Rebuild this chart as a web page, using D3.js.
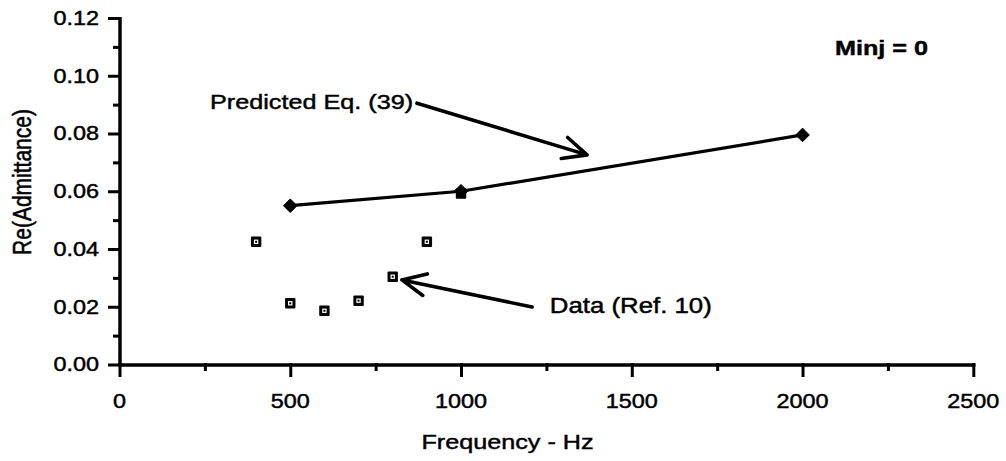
<!DOCTYPE html>
<html>
<head>
<meta charset="utf-8">
<script src="https://cdn.jsdelivr.net/npm/d3@7"></script>
<style>
  html, body { margin: 0; background: #fff; }
  svg { display: block; }
  text { font-family: "Liberation Sans", Arial, Helvetica, sans-serif; fill: #000; stroke: #000; stroke-width: 0.45px; }
</style>
</head>
<body>
<svg id="chart" width="1006" height="461"></svg>
<script>
// Axis ticks and labels
const xTicks = [0, 500, 1000, 1500, 2000, 2500];
const xTickLabels = ["0", "500", "1000", "1500", "2000", "2500"];
const xMinorTicks = [250, 750, 1250, 1750, 2250];
const yTicks = [0, 0.02, 0.04, 0.06, 0.08, 0.10, 0.12];
const yTickLabels = ["0.00", "0.02", "0.04", "0.06", "0.08", "0.10", "0.12"];
const yMinorTicks = [0.01, 0.03, 0.05, 0.07, 0.09, 0.11];

// Predicted Eq. (39)
const predictedFreq = [500, 1000, 2000];
const predictedRe = [0.0550, 0.0600, 0.0795];

// Data (Ref. 10)
const dataFreq = [400, 500, 600, 700, 800, 900, 1000];
const dataRe = [0.0425, 0.0212, 0.0186, 0.0221, 0.0304, 0.0425, 0.0592];

const svg = d3.select("#chart");
const SX = 1.2; // horizontal widening of the lettering

const x = d3.scaleLinear().domain([0, 2500]).range([119.5, 973.3]);
const y = d3.scaleLinear().domain([0, 0.12]).range([364.5, 18]);

function label(g, px, py, str, opts = {}) {
  const t = g.append("g")
    .attr("transform", `translate(${px},${py}) scale(${SX},1)` + (opts.rotate ? ` rotate(${opts.rotate})` : ""))
    .append("text")
    .attr("text-anchor", opts.anchor || "start")
    .attr("font-size", opts.size || 21)
    .attr("font-weight", opts.weight || "normal")
    .text(str);
  if (opts.dy) t.attr("dy", opts.dy);
  return t;
}

// ---- axes ----
const axisStroke = g => {
  g.selectAll("path, line").attr("stroke", "#000").attr("stroke-width", 3).attr("stroke-linecap", "square");
  g.selectAll("text").remove();
};

svg.append("g").attr("transform", `translate(0,${y(0)})`)
  .call(d3.axisBottom(x).tickValues(xMinorTicks).tickSize(5).tickSizeOuter(0).tickFormat(""))
  .call(axisStroke);
svg.append("g").attr("transform", `translate(0,${y(0)})`)
  .call(d3.axisBottom(x).tickValues(xTicks).tickSize(11).tickSizeOuter(0).tickFormat(""))
  .call(axisStroke);

svg.append("g").attr("transform", `translate(${x(0)},0)`)
  .call(d3.axisLeft(y).tickValues(yMinorTicks).tickSize(5).tickSizeOuter(0).tickFormat(""))
  .call(axisStroke);
svg.append("g").attr("transform", `translate(${x(0)},0)`)
  .call(d3.axisLeft(y).tickValues(yTicks).tickSize(10).tickSizeOuter(0).tickFormat(""))
  .call(axisStroke);

// tick labels
const tl = svg.append("g");
xTicks.forEach((v, i) => label(tl, x(v), 408, xTickLabels[i], { anchor: "middle", size: 19.5 }));
yTicks.forEach((v, i) => label(tl, 99, y(v), yTickLabels[i], { anchor: "end", size: 19.5, dy: "0.35em" }));

// axis titles
label(svg, 507.5, 449, "Frequency - Hz", { anchor: "middle", size: 21 });
label(svg, 22, 182, "Re(Admittance)", { anchor: "middle", size: 21, rotate: -90, dy: "0.35em" });

// ---- data squares ----
const dataPts = dataFreq.map((f, i) => [f, dataRe[i]]);
const sq = svg.append("g").selectAll("g").data(dataPts).join("g")
  .attr("transform", d => `translate(${x(d[0])},${y(d[1])})`);
sq.append("rect").attr("x", -5.2).attr("y", -5.2).attr("width", 10.4).attr("height", 10.4).attr("rx", 1).attr("fill", "#000");
sq.append("rect").attr("x", -2.2).attr("y", -2.2).attr("width", 4.4).attr("height", 4.4).attr("fill", "#fff");
sq.append("rect").attr("x", -1).attr("y", -1).attr("width", 2).attr("height", 2).attr("fill", "#000");

// ---- predicted line ----
const predPts = predictedFreq.map((f, i) => [f, predictedRe[i]]);
svg.append("path")
  .datum(predPts)
  .attr("fill", "none").attr("stroke", "#000").attr("stroke-width", 3.2)
  .attr("d", d3.line().x(d => x(d[0])).y(d => y(d[1])));
svg.append("g").selectAll("path").data(predPts).join("path")
  .attr("transform", d => `translate(${x(d[0])},${y(d[1])})`)
  .attr("d", "M0,-6.8L6.8,0L0,6.8L-6.8,0Z")
  .attr("fill", "#000").attr("stroke", "#000").attr("stroke-width", 1).attr("stroke-linejoin", "round");

// ---- annotations ----
function arrow(from, to) {
  const [x0, y0] = [x(from[0]), y(from[1])];
  const [x1, y1] = [x(to[0]), y(to[1])];
  const a = Math.atan2(y0 - y1, x0 - x1);
  const L = 26, spread = 25 * Math.PI / 180;
  const p = d3.path();
  p.moveTo(x0, y0); p.lineTo(x1, y1);
  p.moveTo(x1 + L * Math.cos(a + spread), y1 + L * Math.sin(a + spread));
  p.lineTo(x1, y1);
  p.lineTo(x1 + L * Math.cos(a - spread), y1 + L * Math.sin(a - spread));
  svg.append("path").attr("d", p.toString())
    .attr("fill", "none").attr("stroke", "#000").attr("stroke-width", 3.6)
    .attr("stroke-linecap", "round").attr("stroke-linejoin", "round");
}

label(svg, x(265), y(0.0885), "Predicted Eq. (39)", { size: 21 });
arrow([871, 0.0905], [1369, 0.0726]);

label(svg, x(1260), y(0.0177), "Data (Ref. 10)", { size: 21.5 });
arrow([1208, 0.0199], [827, 0.0293]);

label(svg, x(2095), y(0.1072), "Minj = 0", { size: 21, weight: "bold" });
</script>
</body>
</html>
